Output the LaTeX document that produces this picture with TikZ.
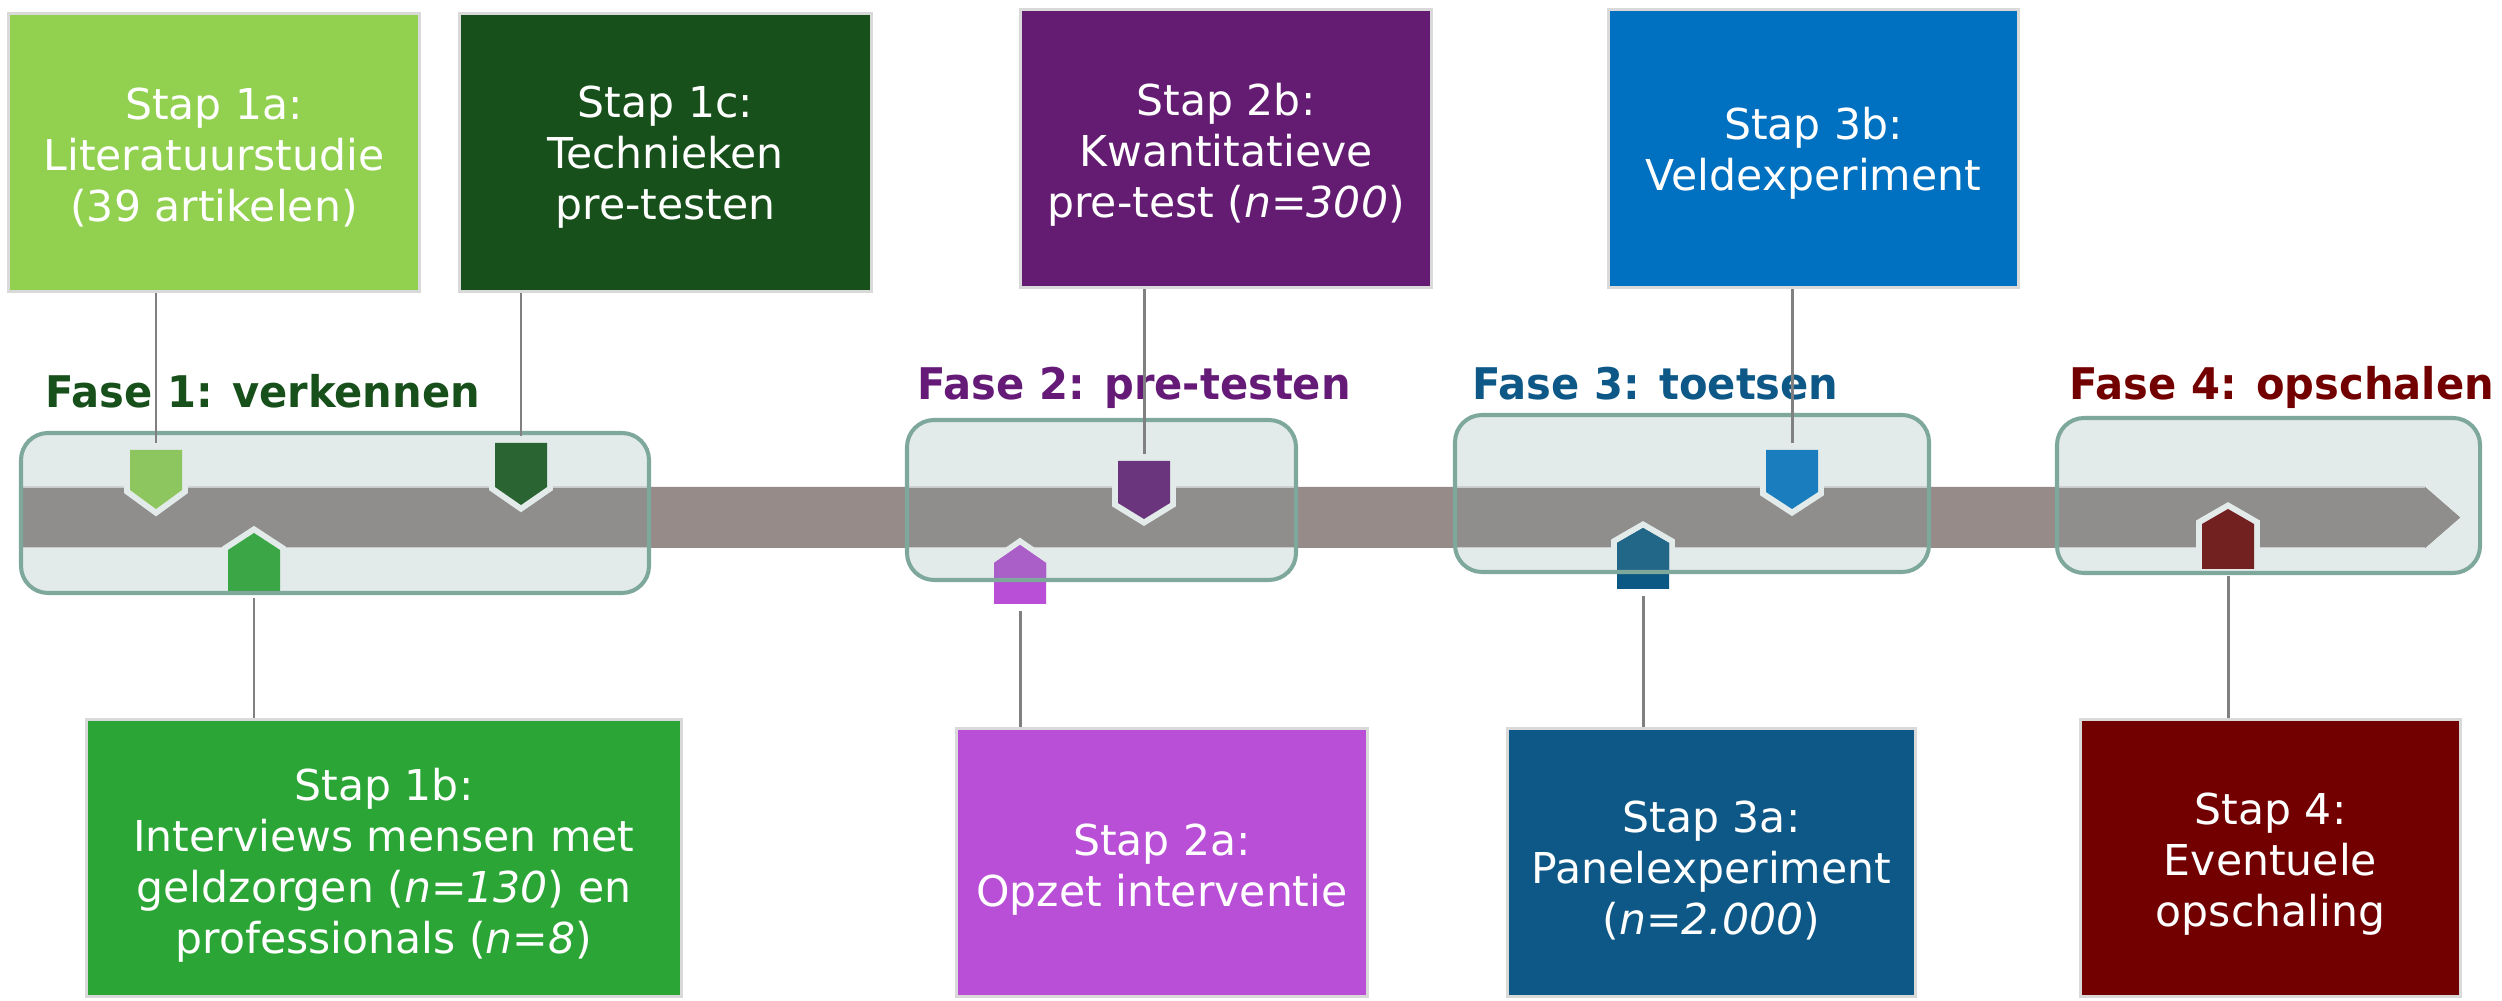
\documentclass[tikz,border=0pt]{standalone}
\usepackage{fontspec}
\setmainfont{DejaVu Sans}

% box colours
\definecolor{c1a}{HTML}{92D050}
\definecolor{c1b}{HTML}{2BA535}
\definecolor{c1c}{HTML}{18501B}
\definecolor{c2a}{HTML}{B94FD6}
\definecolor{c2b}{HTML}{631C71}
\definecolor{c3a}{HTML}{0D5886}
\definecolor{c3b}{HTML}{0070C0}
\definecolor{c4}{HTML}{730000}
% marker colours
\definecolor{m1a}{HTML}{8DC65E}
\definecolor{m1b}{HTML}{3AA646}
\definecolor{m1c}{HTML}{2A6433}
\definecolor{m2a}{HTML}{B94FD6}
\definecolor{m2am}{HTML}{AA5FC8}
\definecolor{m2b}{HTML}{6A357C}
\definecolor{m3a}{HTML}{0B5884}
\definecolor{m3am}{HTML}{226788}
\definecolor{m3b}{HTML}{1A7DBD}
\definecolor{m4}{HTML}{722020}
% heading colours
\definecolor{f1}{HTML}{18501B}
\definecolor{f2}{HTML}{641A76}
\definecolor{f3}{HTML}{0D5886}
\definecolor{f4}{HTML}{730000}
% timeline colours
\definecolor{phasebg}{HTML}{E2EBEA}
\definecolor{phaseline}{HTML}{7DA89B}
\definecolor{bandout}{HTML}{968B89}
\definecolor{bandin}{HTML}{8F8E8C}
\definecolor{bandedge}{HTML}{C8CBCA}
\definecolor{boxline}{HTML}{D9D9D9}
\definecolor{connc}{HTML}{808080}

\tikzset{
  stepbox/.style={draw=boxline, line width=0.85pt, inner sep=0pt},
  steptext/.style={text=white, align=center, inner sep=0pt,
    font=\fontsize{12.1}{14.5}\selectfont},
  conn/.style={draw=connc, line width=0.85pt},
  fasehead/.style={anchor=base west, inner sep=0pt, transform shape, xscale=0.955,
    font=\fontsize{12.4}{14}\selectfont\bfseries},
  markrim/.style={draw=phasebg, line width=3.4pt, line join=miter},
  phasebox/.style={rounded corners=0.27cm},
}

% downward marker: name, centre x, top, shoulder, tip, colour
\newcommand\tlmarkdown[6]{%
  \begin{scope}
    \clip (21,487) rectangle (2460,548);
    \draw[markrim] ({#2-26},#3) -- ({#2-26},#4) -- (#2,#5) -- ({#2+26},#4) -- ({#2+26},#3) -- cycle;
  \end{scope}
  \fill[#6] ({#2-26},#3) -- ({#2-26},#4) -- (#2,#5) -- ({#2+26},#4) -- ({#2+26},#3) -- cycle;
  \coordinate (#1) at (#2,{#3-7});
}
% upward marker: name, centre x, bottom, shoulder, tip, colour
\newcommand\tlmarkup[6]{%
  \begin{scope}
    \clip (21,487) rectangle (2460,548);
    \draw[markrim] ({#2-26},#3) -- ({#2-26},#4) -- (#2,#5) -- ({#2+26},#4) -- ({#2+26},#3) -- cycle;
  \end{scope}
  \fill[#6] ({#2-26},#3) -- ({#2-26},#4) -- (#2,#5) -- ({#2+26},#4) -- ({#2+26},#3) -- cycle;
  \coordinate (#1) at (#2,{#3+7});
}

\begin{document}
\begin{tikzpicture}[x=0.01cm, y=-0.01cm]
\useasboundingbox (0,0) rectangle (2502,1001);

% phase backgrounds
\foreach \xa/\ya/\xb/\yb in {21/433/649/593, 907/420/1296/580, 1455/415/1929/572, 2057/418/2480/573}
  \fill[phasebg, phasebox] (\xa,\ya) rectangle (\xb,\yb);

% timeline arrow
\fill[bandout] (21,487) -- (2425,487) -- (2460,517.5) -- (2425,548) -- (21,548) -- cycle;
\foreach \xa/\ya/\xb/\yb in {21/433/649/593, 907/420/1296/580, 1455/415/1929/572, 2057/418/2480/573}{
  \begin{scope}
    \clip[phasebox] (\xa,\ya) rectangle (\xb,\yb);
    \fill[bandin] (21,487) -- (2425,487) -- (2460,517.5) -- (2425,548) -- (21,548) -- cycle;
    \draw[bandedge, line width=0.4pt] (21,487.5) -- (2425,487.5) (21,547.5) -- (2425,547.5);
  \end{scope}
}

% markers on the timeline
\tlmarkdown{k1a}{156}{450}{490}{509}{m1a}
\tlmarkdown{k1c}{521}{443}{487}{505}{m1c}
\tlmarkup{k1b}{254}{591}{550}{533}{m1b}
\tlmarkdown{k2b}{1144}{461}{503}{519}{m2b}
\tlmarkup{k2a}{1020}{604}{563}{545}{m2a}
\tlmarkdown{k3b}{1792}{450}{492}{509}{m3b}
\tlmarkup{k3a}{1643}{589}{543}{528}{m3a}
\tlmarkup{k4}{2228}{569}{524}{509}{m4}

% marker parts lying inside a phase panel are tinted
\begin{scope}
  \clip[phasebox] (907,420) rectangle (1296,580);
  \fill[m2am] (994,604) -- (994,563) -- (1020,545) -- (1046,563) -- (1046,604) -- cycle;
\end{scope}
\begin{scope}
  \clip[phasebox] (1455,415) rectangle (1929,572);
  \fill[m3am] (1617,589) -- (1617,543) -- (1643,528) -- (1669,543) -- (1669,589) -- cycle;
\end{scope}

% phase outlines
\foreach \xa/\ya/\xb/\yb in {21/433/649/593, 907/420/1296/580, 1455/415/1929/572, 2057/418/2480/573}
  \draw[phaseline, line width=1.15pt, phasebox] (\xa,\ya) rectangle (\xb,\yb);

% phase headings
\node[fasehead, text=f1] (h1) at (45,408) {Fase 1: verkennen};
\node[fasehead, text=f2] (h2) at (917,400) {Fase 2: pre-testen};
\node[fasehead, text=f3] (h3) at (1472,400) {Fase 3: toetsen};
\node[fasehead, text=f4] (h4) at (2069,400) {Fase 4: opschalen};

% step boxes
\node[stepbox, fill=c1a, minimum width=4.11cm, minimum height=2.78cm] (b1a) at (214,152.5) {};
\node[stepbox, fill=c1c, minimum width=4.12cm, minimum height=2.78cm] (b1c) at (665.5,152.5) {};
\node[stepbox, fill=c2b, minimum width=4.11cm, minimum height=2.78cm] (b2b) at (1226,148.5) {};
\node[stepbox, fill=c3b, minimum width=4.10cm, minimum height=2.78cm] (b3b) at (1813.5,148.5) {};
\node[stepbox, fill=c1b, minimum width=5.95cm, minimum height=2.77cm] (b1b) at (384,858) {};
\node[stepbox, fill=c2a, minimum width=4.11cm, minimum height=2.68cm] (b2a) at (1162,862.5) {};
\node[stepbox, fill=c3a, minimum width=4.08cm, minimum height=2.68cm] (b3a) at (1711.5,862.5) {};
\node[stepbox, fill=c4, minimum width=3.80cm, minimum height=2.77cm] (b4) at (2270.5,858) {};

% step texts, set a little below the box centres
\node[steptext] (t1a) at ([yshift=-0.05cm]b1a.center) {Stap 1a:\\Literatuurstudie\\(39 artikelen)};
\node[steptext] (t1c) at ([yshift=-0.05cm]b1c.center) {Stap 1c:\\Technieken\\pre-testen};
\node[steptext] (t2b) at ([yshift=-0.06cm]b2b.center) {Stap 2b:\\Kwantitatieve\\pre-test (\textit{n=300})};
\node[steptext] (t3b) at ([yshift=-0.05cm]b3b.center) {Stap 3b:\\Veldexperiment};
\node[steptext] (t1b) at ([yshift=-0.07cm]b1b.center)
  {Stap 1b:\\Interviews mensen met\\geldzorgen (\textit{n=130}) en\\professionals (\textit{n=8})};
\node[steptext] (t2a) at ([yshift=-0.07cm]b2a.center) {Stap 2a:\\Opzet interventie};
\node[steptext] (t3a) at ([yshift=-0.08cm]b3a.center) {Stap 3a:\\Panelexperiment\\(\textit{n=2.000})};
\node[steptext] (t4) at ([yshift=-0.06cm]b4.center) {Stap 4:\\Eventuele\\opschaling};

% connectors from boxes to markers
\draw[conn] (b1a.south -| k1a) -- (k1a);
\draw[conn] (b1c.south -| k1c) -- (k1c);
\draw[conn] (b2b.south -| k2b) -- (k2b);
\draw[conn] (b3b.south -| k3b) -- (k3b);
\draw[conn] (b1b.north -| k1b) -- (k1b);
\draw[conn] (b2a.north -| k2a) -- (k2a);
\draw[conn] (b3a.north -| k3a) -- (k3a);
\draw[conn] (b4.north -| k4) -- (k4);
\end{tikzpicture}
\end{document}
